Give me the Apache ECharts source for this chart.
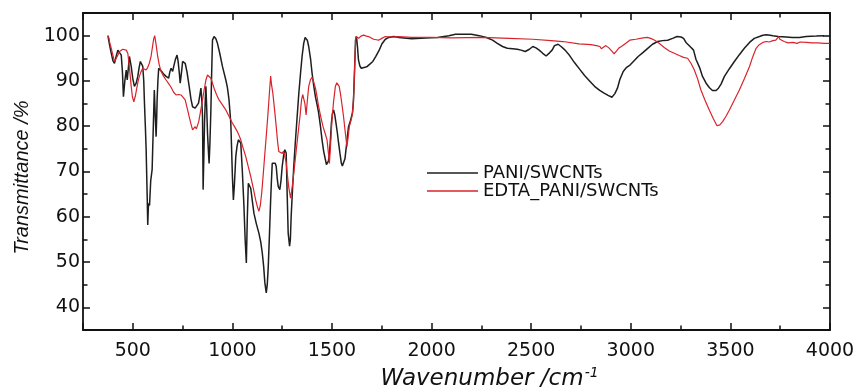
<!DOCTYPE html>
<html><head><meta charset="utf-8">
<script src="https://cdn.jsdelivr.net/npm/echarts@6/dist/echarts.min.js"></script>
<style>html,body{margin:0;padding:0;background:#fff}#c{width:861px;height:392px}</style>
</head><body><div id="c"></div>
<script>
// ---- data ----
const xMin = 250, xMax = 4000;
const yMin = 35, yMax = 105;
const xMajorStep = 500, xMinorStep = 250;
const yMajorStep = 10, yMinorStep = 5;
const xMajorTicks = [500, 1000, 1500, 2000, 2500, 3000, 3500, 4000];
const yMajorTicks = [40, 50, 60, 70, 80, 90, 100];
const seriesNames = ['PANI/SWCNTs', 'EDTA_PANI/SWCNTs'];

const paniX = [375,383,392,400,408,417,425,433,442,448,453,460,467,472,478,483,492,500,508,517,525,532,538,545,550,555,558,563,567,572,575,578,580,584,590,597,603,608,613,617,620,622,626,630,638,645,655,667,672,680,686,692,700,707,713,722,727,733,738,742,746,750,757,763,772,783,792,800,813,822,830,837,842,846,850,853,856,860,864,867,871,875,879,883,887,892,896,900,908,917,925,937,950,967,975,983,988,992,996,1000,1005,1010,1017,1023,1030,1036,1042,1050,1058,1064,1070,1075,1080,1086,1092,1100,1108,1120,1133,1142,1150,1157,1163,1170,1175,1180,1186,1192,1196,1200,1208,1215,1220,1225,1230,1238,1244,1250,1257,1263,1270,1275,1280,1287,1291,1295,1300,1308,1316,1325,1333,1342,1350,1358,1365,1370,1376,1383,1392,1400,1408,1417,1425,1433,1442,1450,1458,1467,1472,1477,1482,1487,1492,1497,1502,1508,1514,1520,1527,1533,1540,1547,1552,1558,1565,1572,1578,1583,1590,1597,1603,1608,1613,1618,1623,1628,1633,1640,1647,1655,1665,1677,1690,1705,1720,1737,1751,1768,1785,1810,1835,1900,1970,2030,2087,2120,2155,2200,2239,2275,2306,2330,2356,2380,2407,2430,2449,2470,2491,2508,2524,2540,2558,2575,2592,2605,2617,2635,2650,2670,2693,2718,2743,2768,2793,2818,2844,2866,2886,2905,2920,2933,2945,2962,2979,2996,3013,3037,3062,3085,3109,3135,3159,3185,3210,3232,3252,3265,3277,3300,3315,3327,3345,3360,3378,3395,3410,3428,3440,3453,3470,3495,3520,3545,3570,3596,3620,3646,3663,3680,3700,3713,3740,3780,3810,3847,3880,3931,3970,3998];
const paniY = [100,98,96.1,94.5,93.9,95.5,96.8,96.5,95.7,92,86.5,90,92.4,90.2,93,95.4,93.2,90.5,88.8,89.5,91,93,94.3,94,93.2,90,85.8,80,74.8,65,58.2,62,63,62.5,68,70.4,80,88,82,77.7,82,85.8,90,92.8,92.5,92.1,91.5,91,91.2,90.6,92,92.8,92.1,93.5,94.6,95.7,94.5,92,89.5,89.9,92.5,94.3,94.5,93.9,92,88.8,86,84.3,84,84.2,85.1,87,88.4,86,82.1,66,72,80.7,86,88.8,84,78.5,75,71.8,76,83.6,92,99,99.8,99.3,98.3,96,93.2,90.2,88.5,85.8,83,80.7,75,68.9,63.7,67,73.3,75.5,77,77,76.3,70,62.3,55,49.8,60,67.4,67,66.3,63.5,60.8,58.5,56.4,54.5,52,49,45.4,43.2,45,49,56,63.7,68,71.8,71.5,71.8,71.1,68.5,66.7,66,68,71.1,73.5,74.8,74.1,65,56.4,53.5,55,60.1,64.5,71.1,76.5,82.1,87,91.7,95.5,98.3,99.6,100,99,97.6,95,91.7,89,86.5,84.8,82.9,80,77,74.5,72.6,71.5,71.1,72.3,74,77,80.7,82.8,83.6,82.5,80.7,78.5,76.3,74,71.8,71.2,71.1,72.8,75.5,78,79.9,80.8,81,83,85.8,92,99,99.8,97.5,94.6,93.3,92.8,92.8,93,93.2,93.7,94.3,95.4,96.8,98.2,99.2,99.6,99.8,99.6,99.3,99.5,99.6,100,100.3,100.3,100.3,100,99.6,99,98.3,97.6,97.2,97.1,97,96.8,96.5,97,97.6,97.3,96.8,96.1,95.5,96.2,96.8,97.8,98.1,97.6,96.8,95.6,94,92.6,91.2,90,88.8,87.9,87.3,86.8,86.4,87.2,88.4,90.3,92.1,93,93.5,94.3,95.4,96.3,97.2,98.1,98.7,98.9,99,99.4,99.8,99.7,99.4,98.5,97.5,96.8,94.8,93,91,89.5,88.5,87.9,87.9,88.4,89.3,91,92.7,94.3,95.8,97.2,98.5,99.4,99.8,100.1,100.2,100.1,100,99.8,99.7,99.6,99.6,99.8,99.9,100];

const edtaX = [375,380,383,390,400,408,417,425,433,442,450,458,467,475,483,492,498,505,512,520,527,533,541,550,558,567,575,583,592,600,605,610,617,625,633,642,655,667,680,692,705,717,730,742,752,763,773,783,792,800,807,813,819,825,831,837,843,850,858,867,875,883,892,900,908,920,933,950,967,983,1000,1012,1025,1033,1042,1055,1067,1080,1092,1105,1117,1125,1133,1140,1147,1155,1163,1172,1180,1186,1192,1197,1203,1212,1220,1227,1233,1241,1250,1257,1263,1270,1275,1283,1292,1300,1308,1320,1330,1340,1347,1353,1358,1364,1370,1376,1383,1392,1400,1408,1417,1425,1433,1445,1455,1465,1475,1481,1487,1493,1500,1508,1517,1524,1530,1536,1542,1550,1558,1567,1575,1581,1587,1595,1600,1605,1610,1615,1620,1627,1634,1645,1659,1672,1684,1697,1709,1722,1734,1750,1768,1800,1835,1900,2003,2100,2256,2390,2508,2600,2659,2740,2800,2827,2845,2852,2862,2875,2890,2905,2916,2928,2941,2953,2975,2995,3025,3062,3083,3100,3120,3142,3168,3193,3218,3243,3265,3285,3302,3319,3335,3352,3372,3394,3415,3433,3447,3461,3478,3495,3520,3545,3570,3596,3612,3629,3645,3663,3680,3695,3713,3728,3735,3742,3748,3755,3770,3790,3814,3835,3850,3881,3910,3940,3970,3998];
const edtaY = [100,99.5,98.7,97.5,95.7,94.3,95,95.7,96.5,96.8,97,97,96.8,96.1,93,88.8,86.5,85.4,86.5,88.4,90,91,92,92.8,92.6,92.4,93,93.9,95.5,97.9,99.3,100,98,95.4,93.5,92.1,91,90.2,89.4,88.6,87.5,86.9,87,86.9,86.5,85.8,84,82.1,80.5,79.2,79.5,79.9,79.4,79.6,81,82.5,84,85.8,88,90.2,91.3,91,90.6,89.5,88.4,87,85.8,84.7,83.6,82.2,80.7,79.8,78.8,78,77,75,73.3,71,68.9,66.3,63.7,62.3,61.2,62.5,65.2,69.5,74,79,83.6,87.5,91.1,89,87.3,83.5,79.9,76.5,74.4,74,74,74.5,74.8,72,69.6,66.5,64.1,66.5,69.6,74.5,78.5,82.5,85.8,87,87.3,85,82.5,85.5,88.8,90.3,90.8,89.8,88.4,86.5,84.3,81.8,79.9,78.5,77,74.5,71.8,76,81.4,85.5,88.8,89.6,89.9,88.8,87.3,84.8,82.1,78.5,75.5,77.5,79.9,81.2,82.1,84,88,95,99.8,99.4,99.4,99.9,100.1,99.9,99.8,99.5,99.2,99.1,99,99.4,99.8,99.7,99.8,99.6,99.6,99.5,99.6,99.4,99.2,98.9,98.7,98.2,98,97.8,97.6,97.1,97.5,97.8,97.3,96.6,96,96.6,97.3,97.6,98.3,99,99.2,99.5,99.6,99.4,99,98.3,97.4,96.6,96.1,95.6,95.2,95,93.9,92.4,90.5,88,85.8,83.6,81.6,80.1,80.3,81,82.2,83.6,85.8,88,90.5,93.2,95.3,97.2,98,98.5,98.7,98.6,98.9,99,99.3,99.8,99.2,98.8,98.7,98.4,98.5,98.3,98.6,98.5,98.4,98.4,98.3,98.3];

// ---- build ----
const zip = (xs, ys) => xs.map((x, i) => [x, ys[i]]);
const txt = '#111';
const fontTick = 'DejaVu Sans';
const tickStyle = { color: txt, width: 1.5 };

// major axes: nice auto interval (splitNumber) so ticks fall on multiples of the step
function majorAxis(kind, pos, labels, labelTicks) {
  const isX = kind === 'x';
  const span = isX ? (xMax - xMin) : (yMax - yMin);
  const step = isX ? xMajorStep : yMajorStep;
  return {
    type: 'value', position: pos,
    min: isX ? xMin : yMin, max: isX ? xMax : yMax,
    splitNumber: Math.round(span / step),
    axisLine: { show: true, onZero: false, lineStyle: { color: txt, width: 1.8 } },
    axisTick: { show: true, inside: true, length: 7, lineStyle: tickStyle },
    axisLabel: labels ? {
      show: true, color: txt, fontFamily: fontTick, fontSize: 19, margin: isX ? 12 : 3,
      customValues: labelTicks, showMinLabel: true, showMaxLabel: true,
      formatter: v => (labelTicks.indexOf(v) >= 0 ? String(v) : '')
    } : { show: false },
    splitLine: { show: false }, minorTick: { show: false }
  };
}
// minor axes: interval with min a multiple of it
function minorAxis(kind, pos) {
  const isX = kind === 'x';
  return {
    type: 'value', position: pos,
    min: isX ? xMin : yMin, max: isX ? xMax : yMax,
    interval: isX ? xMinorStep : yMinorStep,
    axisLine: { show: false, onZero: false },
    axisTick: { show: true, inside: true, length: 4.5, lineStyle: tickStyle },
    axisLabel: { show: false },
    splitLine: { show: false }
  };
}

const xMain = majorAxis('x', 'bottom', true, xMajorTicks);
xMain.name = 'Wavenumber /cm{sup|-1}';
xMain.nameLocation = 'middle';
xMain.nameGap = 36;
xMain.nameTextStyle = {
  color: txt, fontFamily: 'DejaVu Sans', fontStyle: 'italic', fontSize: 23, padding: [0, 0, 0, 66],
  rich: { sup: { color: txt, fontFamily: 'DejaVu Sans', fontStyle: 'italic', fontSize: 14, verticalAlign: 'top', padding: [0, 0, 12, 1] } }
};
const yMain = majorAxis('y', 'left', true, yMajorTicks);
yMain.name = 'Transmittance /%';
yMain.nameLocation = 'middle';
yMain.nameGap = 50;
yMain.nameTextStyle = { color: txt, fontFamily: 'Liberation Sans', fontStyle: 'italic', fontSize: 20, padding: [0, 12, 0, 0] };

const option = {
  animation: false,
  backgroundColor: '#fff',
  grid: { left: 83, right: 31, top: 13, bottom: 62, containLabel: false, outerBoundsMode: 'none' },
  xAxis: [ xMain, minorAxis('x', 'bottom'), majorAxis('x', 'top', false), minorAxis('x', 'top') ],
  yAxis: [ yMain, minorAxis('y', 'left'), majorAxis('y', 'right', false), minorAxis('y', 'right') ],
  legend: {
    orient: 'vertical', left: 427, top: 164, padding: 0, icon: 'rect',
    itemWidth: 51, itemHeight: 1.5, itemGap: 0,
    textStyle: { color: txt, fontFamily: 'DejaVu Sans', fontSize: 18, lineHeight: 18 },
    data: seriesNames
  },
  series: [
    { name: seriesNames[0], type: 'line', xAxisIndex: 0, yAxisIndex: 0, symbol: 'none', showSymbol: false,
      color: '#1e1e1e', lineStyle: { color: '#1e1e1e', width: 1.5 }, data: zip(paniX, paniY), z: 2 },
    { name: seriesNames[1], type: 'line', xAxisIndex: 0, yAxisIndex: 0, symbol: 'none', showSymbol: false,
      color: '#d9232b', lineStyle: { color: '#d9232b', width: 1.2 }, data: zip(edtaX, edtaY), z: 3 }
  ]
};
const chart = echarts.init(document.getElementById('c'), null, { renderer: 'canvas' });
chart.setOption(option);
</script>
</body></html>
